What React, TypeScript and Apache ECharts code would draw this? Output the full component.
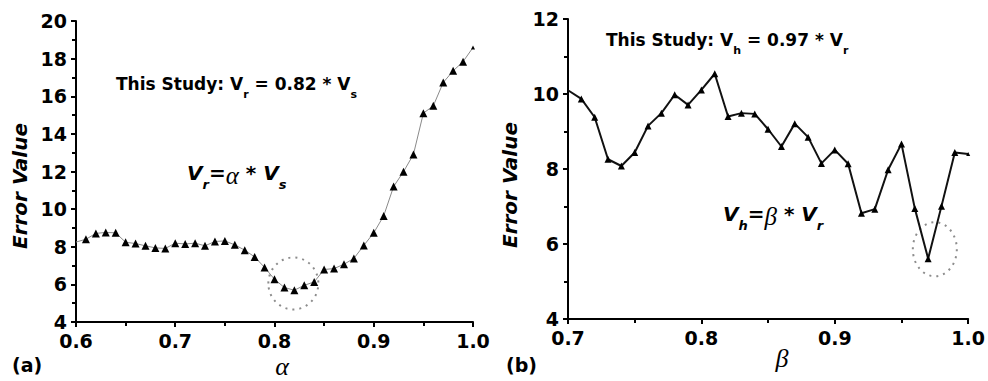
import React, { useEffect, useRef } from "react";
import * as echarts from "echarts";

// Panel (a): error value against the scaling factor alpha (V_r = alpha * V_s)
const alphaValues = [
  0.6, 0.61, 0.62, 0.63, 0.64, 0.65, 0.66, 0.67, 0.68, 0.69, 0.7, 0.71, 0.72, 0.73,
  0.74, 0.75, 0.76, 0.77, 0.78, 0.79, 0.8, 0.81, 0.82, 0.83, 0.84, 0.85, 0.86, 0.87,
  0.88, 0.89, 0.9, 0.91, 0.92, 0.93, 0.94, 0.95, 0.96, 0.97, 0.98, 0.99, 1.0,
];
const errorAlpha = [
  8.25, 8.4, 8.71, 8.76, 8.74, 8.24, 8.17, 8.05, 7.94, 7.91, 8.19, 8.15, 8.19, 8.05,
  8.28, 8.31, 8.1, 7.82, 7.46, 6.9, 6.27, 5.83, 5.69, 5.95, 6.13, 6.79, 6.84, 7.07,
  7.38, 8.07, 8.74, 9.64, 11.2, 11.99, 12.91, 15.1, 15.49, 16.73, 17.35, 17.84, 18.59,
];

// Panel (b): error value against the scaling factor beta (V_h = beta * V_r)
const betaValues = [
  0.7, 0.71, 0.72, 0.73, 0.74, 0.75, 0.76, 0.77, 0.78, 0.79, 0.8, 0.81, 0.82, 0.83,
  0.84, 0.85, 0.86, 0.87, 0.88, 0.89, 0.9, 0.91, 0.92, 0.93, 0.94, 0.95, 0.96, 0.97,
  0.98, 0.99, 1.0,
];
const errorBeta = [
  10.1, 9.87, 9.38, 8.26, 8.08, 8.44, 9.15, 9.49, 9.98, 9.71, 10.11, 10.54, 9.4, 9.49,
  9.47, 9.06, 8.6, 9.21, 8.85, 8.15, 8.51, 8.14, 6.82, 6.93, 7.98, 8.67, 6.95, 5.61,
  7.01, 8.44, 8.4,
];

// Chosen optimum of each sweep, ringed by a dotted outline
const bestAlpha = [0.819, 6.05];
const bestBeta = [0.975, 5.86];

const SANS = '"DejaVu Sans", sans-serif';
const SERIF = '"Liberation Serif", serif';

function buildPoints(xs: number[], ys: number[], size: number) {
  return xs.map((x, i) => ({
    value: [x, ys[i]],
    symbol: i === 0 ? "none" : "triangle",
    symbolSize: i === xs.length - 1 ? 4 : size,
  }));
}

function xAxisFor(gridIndex: number, min: number, max: number) {
  return {
    type: "value" as const,
    gridIndex,
    min,
    max,
    interval: 0.1,
    axisLine: { show: true, lineStyle: { color: "#000", width: 2 } },
    axisTick: { show: true, length: 5, lineStyle: { color: "#000", width: 2 } },
    minorTick: { show: true, splitNumber: 2, length: 4, lineStyle: { color: "#000", width: 2 } },
    splitLine: { show: false },
    axisLabel: {
      color: "#000",
      fontFamily: SANS,
      fontWeight: "bold" as const,
      fontSize: 19,
      lineHeight: 19,
      margin: 9,
      formatter: (v: number) => v.toFixed(1),
    },
  };
}

function yAxisFor(gridIndex: number, min: number, max: number) {
  return {
    type: "value" as const,
    gridIndex,
    min,
    max,
    interval: 2,
    axisLine: { show: true, lineStyle: { color: "#000", width: 2 } },
    axisTick: { show: true, length: 5, lineStyle: { color: "#000", width: 2 } },
    minorTick: { show: true, splitNumber: 2, length: 4, lineStyle: { color: "#000", width: 2 } },
    splitLine: { show: false },
    axisLabel: {
      color: "#000",
      fontFamily: SANS,
      fontWeight: "bold" as const,
      fontSize: 19,
      lineHeight: 15,
      margin: 9,
    },
  };
}

const mainRich = {
  m: { fontFamily: SANS, fontWeight: "bold", fontSize: 17, lineHeight: 17, verticalAlign: "top", fill: "#000" },
  s: { fontFamily: SANS, fontWeight: "bold", fontSize: 11, lineHeight: 11, padding: [14, 0, 0, 0], verticalAlign: "top", fill: "#000" },
};

const formulaRich = {
  v: { fontFamily: SANS, fontWeight: "bold", fontStyle: "italic", fontSize: 20, lineHeight: 20, verticalAlign: "top", fill: "#000" },
  s: { fontFamily: SANS, fontWeight: "bold", fontStyle: "italic", fontSize: 13, lineHeight: 13, padding: [15, 0, 0, 0], verticalAlign: "top", fill: "#000" },
  e: { fontFamily: SANS, fontWeight: "bold", fontSize: 20, lineHeight: 20, verticalAlign: "top", fill: "#000" },
  g: { fontFamily: SERIF, fontStyle: "italic", fontSize: 25, lineHeight: 20, verticalAlign: "top", fill: "#000" },
};

function richText(x: number, y: number, text: string, rich: any) {
  return {
    type: "text",
    x,
    y,
    style: { text, rich, fill: "#000", align: "left", verticalAlign: "top" },
  };
}

function plainText(x: number, y: number, text: string, font: string, rotation = 0, align = "center") {
  return {
    type: "text",
    x,
    y,
    rotation,
    style: { text, font, fill: "#000", align, verticalAlign: "middle" },
  };
}

export default function App() {
  const ref = useRef<HTMLDivElement>(null);

  useEffect(() => {
    document.body.style.margin = "0";
    if (!ref.current) return;
    const chart = echarts.init(ref.current, undefined, { renderer: "svg" });

    chart.setOption({
      animation: false,
      backgroundColor: "#fff",
      grid: [
        { left: 76, top: 21, width: 397, height: 301 },
        { left: 568, top: 19, width: 403, height: 300 },
      ],
      xAxis: [xAxisFor(0, 0.6, 1.0), xAxisFor(1, 0.7, 1.0)],
      yAxis: [yAxisFor(0, 4, 20), yAxisFor(1, 4, 12)],
      series: [
        {
          type: "line",
          xAxisIndex: 0,
          yAxisIndex: 0,
          data: buildPoints(alphaValues, errorAlpha, 8),
          lineStyle: { color: "#8a8a8a", width: 1 },
          itemStyle: { color: "#000" },
          clip: false,
        },
        {
          type: "line",
          xAxisIndex: 1,
          yAxisIndex: 1,
          data: buildPoints(betaValues, errorBeta, 7),
          lineStyle: { color: "#111", width: 2 },
          itemStyle: { color: "#000" },
          clip: false,
        },
      ],
    });

    const ringA = chart.convertToPixel({ xAxisIndex: 0, yAxisIndex: 0 }, bestAlpha) as number[];
    const ringB = chart.convertToPixel({ xAxisIndex: 1, yAxisIndex: 1 }, bestBeta) as number[];
    const ringStyle = { fill: "none", stroke: "#8c8c8c", lineWidth: 2, lineDash: [2, 5] };

    chart.setOption({
      graphic: [
        { type: "ellipse", shape: { cx: ringA[0], cy: ringA[1], rx: 25, ry: 26 }, style: ringStyle, z: 1 },
        { type: "ellipse", shape: { cx: ringB[0], cy: ringB[1], rx: 22, ry: 27 }, style: ringStyle, z: 1 },
        richText(116, 75, "{m|This Study: V}{s|r}{m| = 0.82 * V}{s|s}", mainRich),
        richText(606, 31, "{m|This Study: V}{s|h}{m| = 0.97 * V}{s|r}", mainRich),
        richText(187, 163, "{v|V}{s|r}{e|=}{g|α}{e| * }{v|V}{s|s}", formulaRich),
        richText(723, 204, "{v|V}{s|h}{e|=}{g|β}{e| * }{v|V}{s|r}", formulaRich),
        plainText(20, 186, "Error Value", `italic bold 20px ${SANS}`, Math.PI / 2),
        plainText(510, 185, "Error Value", `italic bold 20px ${SANS}`, Math.PI / 2),
        plainText(282, 366, "α", `italic 26px ${SERIF}`),
        plainText(782, 358, "β", `italic 26px ${SERIF}`),
        plainText(12, 365, "(a)", `bold 19px ${SANS}`, 0, "left"),
        plainText(506, 365, "(b)", `bold 19px ${SANS}`, 0, "left"),
      ],
    });

    return () => chart.dispose();
  }, []);

  return <div ref={ref} style={{ width: 988, height: 381 }} />;
}
